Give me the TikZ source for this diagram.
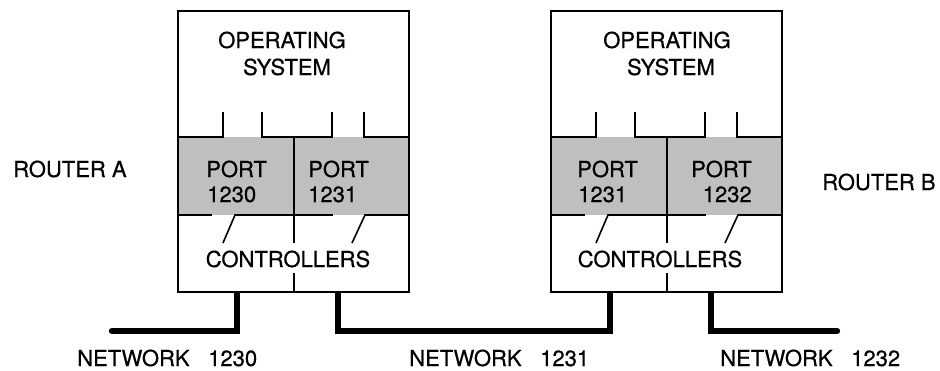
\documentclass[tikz,border=0pt]{standalone}
\usepackage{fontspec}
\setmainfont[FakeBold=0.6]{TeX Gyre Heros}
\begin{document}
\begin{tikzpicture}[x=0.75pt,y=-0.75pt,
  lbl/.style={inner sep=0pt, font=\fontsize{16.5}{19}\selectfont},
  outline/.style={line width=1.4pt, line cap=butt, line join=miter},
  thin/.style={line width=1.2pt},
  net/.style={line width=4.8pt, line cap=round, line join=miter},
  portfill/.style={fill=black!25}]
\useasboundingbox (0,0) rectangle (940,371);

% network attachment points on the bottom of each router box
\coordinate (a1) at (237,292);
\coordinate (a2) at (338,292);
\coordinate (b1) at (610,292);
\coordinate (b2) at (711,292);
\coordinate (w1230) at (112,331);
\coordinate (e1232) at (837,331);

% networks
\draw[net] (w1230) -| (a1);
\draw[net] (a2) -- (a2 |- w1230) -- (b1 |- w1230) -- (b1);
\draw[net] (b2) -- (b2 |- e1232) -- (e1232);

% router boxes
\foreach \dx/\nm in {178/ra, 551/rb}{
\begin{scope}[shift={(\dx,0)}]
  \fill[white] (0,11) rectangle (231,292);
  \fill[portfill] (0,137) rectangle (231,215);
  \draw[outline] (0,11) rectangle (231,292);
  \coordinate (\nm) at (115,150);
  % operating system lower boundary with openings
  \draw[thin] (0,137) -- (45,137) -- (45,112);
  \draw[thin] (84,112) -- (84,137) -- (154,137) -- (154,112);
  \draw[thin] (186,112) -- (186,137) -- (231,137);
  % port / controller boundary with switches
  \draw[thin] (0,215) -- (34,215);
  \draw[thin] (45,243) -- (57,215) -- (116,215);
  \draw[thin] (116,215) -- (155,215);
  \draw[thin] (174,243) -- (187,215) -- (231,215);
  % divider
  \draw[thin] (116,137) -- (116,243);
  \draw[thin] (116,273) -- (116,292);
\end{scope}}

% texts
\node[lbl, anchor=base] (osa1) at (282,48) {OPERATING};
\node[lbl, anchor=base] (osa2) at (287,75) {SYSTEM};
\node[lbl, anchor=base] (osb1) at (667,48) {OPERATING};
\node[lbl, anchor=base] (osb2) at (671,75) {SYSTEM};

\node[lbl, anchor=base west] (pa1) at (206,177) {PORT};
\node[lbl, anchor=base west] (pa1n) at (207,202) {1230};
\node[lbl, anchor=base west] (pa2) at (308,177) {PORT};
\node[lbl, anchor=base west] (pa2n) at (308,202) {1231};
\node[lbl, anchor=base west] (pb1) at (577,177) {PORT};
\node[lbl, anchor=base west] (pb1n) at (578,202) {1231};
\node[lbl, anchor=base east] (pb2) at (752,177) {PORT};
\node[lbl, anchor=base east] (pb2n) at (752,202) {1232};

\node[lbl, anchor=base] (ca) at (288,267) {CONTROLLERS};
\node[lbl, anchor=base] (cb) at (660,267) {CONTROLLERS};

\node[lbl, anchor=base west] (routera) at (13,177) {ROUTER A};
\node[lbl, anchor=base west] (routerb) at (822,190) {ROUTER B};

\node[lbl, anchor=base west] (n1230) at (77,366) {NETWORK\hspace{14pt}1230};
\node[lbl, anchor=base west] (n1231) at (409,366) {NETWORK\hspace{14pt}1231};
\node[lbl, anchor=base west] (n1232) at (720,366) {NETWORK\hspace{14pt}1232};
\end{tikzpicture}
\end{document}
